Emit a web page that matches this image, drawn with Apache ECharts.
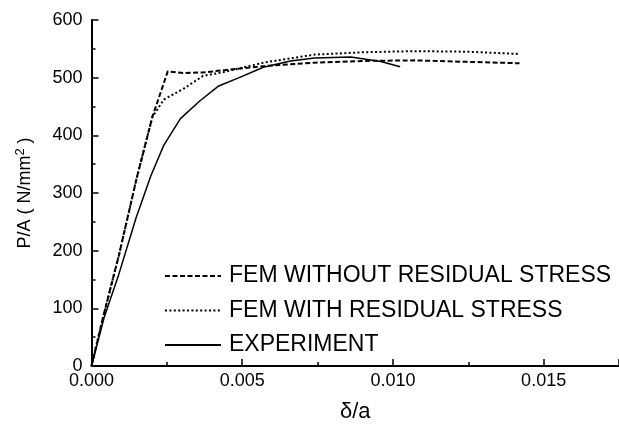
<!DOCTYPE html>
<html>
<head>
<meta charset="utf-8">
<script src="https://cdn.jsdelivr.net/npm/echarts@6/dist/echarts.min.js"></script>
<style>
  html, body { margin: 0; padding: 0; background: #fff; }
  #chart { width: 619px; height: 428px; }
</style>
</head>
<body>
<div id="chart"></div>
<script>
// [delta/a, P/A]
const femWithout = [
  [0, 0], [0.0004, 88], [0.0009, 190], [0.0015, 326], [0.00202, 432],
  [0.00253, 511], [0.00306, 508], [0.0037, 509], [0.0044, 513],
  [0.0057, 520], [0.0074, 526], [0.009, 529], [0.0107, 530], [0.0142, 525]
]
const femWith = [
  [0, 0], [0.0004, 88], [0.0009, 190], [0.0015, 326], [0.00202, 432],
  [0.0024, 462], [0.00306, 481], [0.0037, 503], [0.0044, 510],
  [0.0057, 526], [0.0074, 540], [0.009, 544], [0.0107, 546],
  [0.0125, 545], [0.0142, 541]
]
const experiment = [
  [0, 0], [0.0001, 20], [0.00043, 86], [0.0009, 158], [0.00148, 257],
  [0.00197, 330], [0.0024, 383], [0.00295, 429], [0.0036, 460],
  [0.0042, 485], [0.0049, 500], [0.0057, 518], [0.0066, 529], [0.0074, 534],
  [0.0086, 536], [0.0096, 528], [0.01024, 519]
]
const seriesNames = ['FEM WITHOUT RESIDUAL STRESS', 'FEM WITH RESIDUAL STRESS', 'EXPERIMENT']

const font = 'Liberation Sans, Arial, sans-serif'
const chart = echarts.init(document.getElementById('chart'))

const axisCommon = {
  axisLine: { show: true, lineStyle: { color: '#000', width: 2 } },
  axisTick: { show: true, inside: true, length: 7, lineStyle: { color: '#000', width: 1.5 } },
  minorTick: { show: true, splitNumber: 2, length: 4, lineStyle: { color: '#000', width: 1.5 } },
  splitLine: { show: false },
  minorSplitLine: { show: false }
}

chart.setOption({
  animation: false,
  backgroundColor: '#fff',
  grid: { left: 91.5, right: -7, top: 20, bottom: 58, containLabel: false },
  legend: {
    orient: 'vertical',
    left: 159,
    top: 259,
    itemWidth: 56,
    itemHeight: 14,
    itemGap: 10.5,
    itemStyle: { opacity: 0 },
    textStyle: { color: '#000', fontSize: 23, fontFamily: font, lineHeight: 24, padding: [0, 0, 0, 3] },
    data: seriesNames
  },
  xAxis: {
    type: 'value',
    min: 0,
    max: 0.0175,
    interval: 0.005,
    name: 'δ/a',
    nameLocation: 'middle',
    nameGap: 35,
    nameTextStyle: { color: '#000', fontSize: 22, fontFamily: font },
    axisLabel: {
      color: '#000', fontSize: 18, fontFamily: font, margin: 6,
      showMaxLabel: false,
      formatter: v => v.toFixed(3)
    },
    ...axisCommon
  },
  yAxis: {
    type: 'value',
    min: 0,
    max: 600,
    interval: 100,
    name: '{a|P/A ( N/mm}{s|2}{a| )}',
    nameLocation: 'middle',
    nameGap: 54,
    nameTextStyle: {
      color: '#000',
      fontFamily: font,
      rich: {
        a: { fontSize: 18, fontFamily: font, color: '#000' },
        s: { fontSize: 13, fontFamily: font, color: '#000', padding: [0, 0, 11, 0] }
      }
    },
    axisLabel: { color: '#000', fontSize: 18, fontFamily: font, margin: 9 },
    ...axisCommon
  },
  series: [
    {
      name: seriesNames[0],
      type: 'line',
      data: femWithout,
      symbol: 'none',
      itemStyle: { color: '#000' },
      lineStyle: { color: '#000', width: 2, type: [5, 2.5] }
    },
    {
      name: seriesNames[1],
      type: 'line',
      data: femWith,
      symbol: 'none',
      itemStyle: { color: '#000' },
      lineStyle: { color: '#000', width: 2, type: [2, 2.4] }
    },
    {
      name: seriesNames[2],
      type: 'line',
      data: experiment,
      symbol: 'none',
      itemStyle: { color: '#000' },
      lineStyle: { color: '#000', width: 1.5 }
    }
  ]
})
</script>
</body>
</html>
